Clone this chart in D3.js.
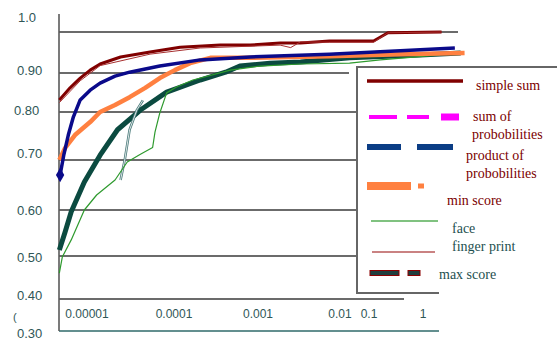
<!DOCTYPE html>
<html><head><meta charset="utf-8">
<script src="https://cdn.jsdelivr.net/npm/d3@7/dist/d3.min.js"></script>
<style>body{margin:0;background:#fff}svg{display:block}</style>
</head><body><svg id="c" width="557" height="341"></svg>
<script>
// ---- data (false acceptance rate, accuracy) ----
const yTicks = [1.0, 0.9, 0.8, 0.7, 0.6, 0.5, 0.4, 0.3];
const yTickLabels = ["1.0", "0.90", "0.80", "0.70", "0.60", "0.50", "0.40", "0.30"];
const xTicks = [0.00001, 0.0001, 0.001, 0.01, 0.1, 1];
const xTickLabels = ["0.00001", "0.0001", "0.001", "0.01", "0.1", "1"];
const seriesNames = ["simple sum", "sum of probobilities", "product of probobilities", "min score", "face", "finger print", "max score"];

const simpleSum = [[4.7e-6,0.831],[6.3e-6,0.862],[8.3e-6,0.887],[1.09e-5,0.907],[1.43e-5,0.922],[2.5e-5,0.939],[5.6e-5,0.951],[1.27e-4,0.963],[3.8e-4,0.968],[8.6e-4,0.968],[1.95e-3,0.973],[3.4e-3,0.973],[7.5e-3,0.978],[0.025,0.978],[0.037,0.998],[0.16,1.0]];
const fingerPrint = [[4.7e-6,0.824],[8.3e-6,0.88],[1.43e-5,0.918],[5.6e-5,0.946],[2.2e-4,0.961],[1.95e-3,0.968],[2.6e-3,0.962],[3.4e-3,0.976],[7.5e-3,0.975],[0.025,0.975],[0.037,0.998],[0.16,1.0]];
const sumProb = [[4.8e-6,0.67],[5.3e-6,0.71],[6.0e-6,0.752],[6.9e-6,0.79],[8.3e-6,0.831],[1.09e-5,0.856],[1.43e-5,0.874],[2.15e-5,0.892],[3.2e-5,0.902],[7.3e-5,0.917],[2.2e-4,0.932],[8.6e-4,0.939],[7.5e-3,0.946],[0.052,0.954],[0.23,0.961]];
const productProb = [[4.8e-6,0.67],[5.3e-6,0.71],[6.0e-6,0.752],[6.9e-6,0.79],[8.3e-6,0.831],[1.09e-5,0.856],[1.43e-5,0.874],[2.15e-5,0.892],[3.2e-5,0.902],[7.3e-5,0.917],[2.2e-4,0.932],[8.6e-4,0.939],[7.5e-3,0.946],[0.052,0.954],[0.23,0.961]];
const minScore = [[4.7e-6,0.70],[5.5e-6,0.725],[7.2e-6,0.752],[1.09e-5,0.779],[1.43e-5,0.80],[2.15e-5,0.818],[3.2e-5,0.838],[4.9e-5,0.862],[7.3e-5,0.887],[1.1e-4,0.907],[1.67e-4,0.924],[2.9e-4,0.937],[8.6e-4,0.937],[7.5e-3,0.941],[0.052,0.946],[0.30,0.949]];
const face = [[4.7e-6,0.46],[5.1e-6,0.498],[6.5e-6,0.535],[9.3e-6,0.60],[1.3e-5,0.63],[2.15e-5,0.66],[3.0e-5,0.696],[4.3e-5,0.712],[6.0e-5,0.726],[6.4e-5,0.758],[7.3e-5,0.798],[8.8e-5,0.849],[1.15e-4,0.864],[1.8e-4,0.882],[5.0e-4,0.907],[1.13e-3,0.917],[3.4e-3,0.922],[0.013,0.924],[0.03,0.932],[0.154,0.944]];
const maxScore = [[4.7e-6,0.513],[5.5e-6,0.552],[6.5e-6,0.596],[9.3e-6,0.656],[1.43e-5,0.71],[2.3e-5,0.763],[4.3e-5,0.805],[8.8e-5,0.851],[2.2e-4,0.882],[4.4e-4,0.902],[6.5e-4,0.917],[1.48e-3,0.924],[3.4e-3,0.927],[0.013,0.937],[0.089,0.944],[0.27,0.949]];
const maxScoreTrace = [[2.5e-5,0.66],[2.8e-5,0.70],[3.2e-5,0.763],[3.9e-5,0.805],[4.6e-5,0.83]];

// ---- scales ----
const svg = d3.select("#c");
const x = d3.scaleLog().domain([1e-5, 1e-2]).range([87, 340]);
const xLabelPos = d3.scaleLinear().domain([-5, -4, -3, -2, -1, 0]).range([87, 174, 258, 340, 369, 423]);
const y = d3.scaleLinear().domain([0.3, 0.4, 0.5, 0.6, 0.7, 0.8, 0.9, 1.0]).range([331, 299, 256, 210, 160, 112, 73, 32]);
const yLabelPos = d3.scaleLinear().domain([0.3, 0.4, 0.5, 0.6, 0.7, 0.8, 0.9, 1.0]).range([338, 300, 262, 215, 158, 115, 75, 22]);

const x0 = 59;
const gridEnd = {"1": 458, "0.9": 349, "0.8": 356, "0.7": 356, "0.6": 356, "0.5": 356, "0.4": 404};

// gridlines
svg.append("g").selectAll("line").data(yTicks.filter(v => v > 0.35)).join("line")
  .attr("x1", x0).attr("x2", d => gridEnd[String(d)])
  .attr("y1", d => y(d)).attr("y2", d => y(d))
  .attr("stroke", "#3a3a3a").attr("stroke-width", 1.6);
// bottom teal line
svg.append("line").attr("x1", x0).attr("x2", 439).attr("y1", y(0.3)).attr("y2", y(0.3))
  .attr("stroke", "#2f6a6a").attr("stroke-width", 1.6);
// y axis
svg.append("line").attr("x1", x0).attr("x2", x0).attr("y1", 14).attr("y2", y(0.3))
  .attr("stroke", "#5a5a5a").attr("stroke-width", 1.6);

// y labels
svg.append("g").selectAll("text").data(yTicks).join("text")
  .attr("x", (d, i) => i === 2 ? 14 : (i === 0 ? 18 : 17))
  .attr("y", d => yLabelPos(d))
  .attr("font-family", "Liberation Sans, Arial, sans-serif").attr("font-size", 13)
  .attr("fill", "#2f5656")
  .text((d, i) => yTickLabels[i]);
svg.append("text").attr("x", 13).attr("y", 321).attr("font-family", "Liberation Sans, Arial")
  .attr("font-size", 11).attr("fill", "#2f5656").text("(");

// x labels
svg.append("g").selectAll("text").data(xTicks).join("text")
  .attr("x", d => xLabelPos(Math.log10(d)))
  .attr("y", 318)
  .attr("text-anchor", "middle")
  .attr("font-family", "Liberation Sans, Arial, sans-serif").attr("font-size", 12)
  .attr("fill", "#2f5656")
  .text((d, i) => xTickLabels[i]);

// curves
const line = d3.line().x(d => x(d[0])).y(d => y(d[1]));
const g = svg.append("g").attr("fill", "none").attr("stroke-linejoin", "round");
g.append("path").datum(maxScore).attr("d", line).attr("stroke", "#0b4a40").attr("stroke-width", 5);
g.append("path").datum(maxScoreTrace).attr("d", line).attr("stroke", "#4a7a7a").attr("stroke-width", 2.5);
g.append("path").datum(maxScoreTrace).attr("d", line).attr("stroke", "#fff").attr("stroke-width", 0.8);
g.append("path").datum(face).attr("d", line).attr("stroke", "#2e9a2e").attr("stroke-width", 1.2);
g.append("path").datum(minScore).attr("d", line).attr("stroke", "#ff8040").attr("stroke-width", 4.5);
g.append("path").datum(sumProb).attr("d", line).attr("stroke", "#ff00ff").attr("stroke-width", 2).attr("stroke-dasharray", "8,6");
g.append("path").datum(productProb).attr("d", line).attr("stroke", "#0a0a8a").attr("stroke-width", 3.5);
g.append("path").datum(simpleSum).attr("d", line).attr("stroke", "#800000").attr("stroke-width", 3);
g.append("path").datum(fingerPrint).attr("d", line).attr("stroke", "#a83030").attr("stroke-width", 1);

// diamond marker at start of product curve
svg.append("path").attr("d", d3.symbol().type(d3.symbolDiamond).size(60))
  .attr("transform", `translate(${x(productProb[0][0])},${y(productProb[0][1])})`)
  .attr("fill", "#0a0a8a");

// legend box
const lg = svg.append("g");
lg.append("path").attr("d", "M557,67 H357 V293 H439").attr("fill", "none")
  .attr("stroke", "#666").attr("stroke-width", 2);

const swatches = [
  {y: 81, segs: [[367, 463]], h: 3.5, fill: "#800000"},
  {y: 117, segs: [[369, 397], [407, 429]], h: 4, fill: "#ff00ff"},
  {y: 117, segs: [[441, 459]], h: 7, fill: "#ff00ff"},
  {y: 147, segs: [[367, 401], [417, 453]], h: 6, fill: "#0b3d85"},
  {y: 186, segs: [[367, 411]], h: 8, fill: "#ff8040"},
  {y: 186, segs: [[418, 424]], h: 5, fill: "#ff8040"},
  {y: 221, segs: [[371, 438]], h: 1.2, fill: "#2e9a2e"},
  {y: 252, segs: [[372, 435]], h: 1.2, fill: "#a83030"},
  {y: 273, segs: [[370, 399], [408, 420]], h: 5, fill: "#1f3f3f", stroke: "#8b0000"}
];
swatches.forEach(s => s.segs.forEach(sg => {
  lg.append("rect").attr("x", sg[0]).attr("y", s.y - s.h / 2).attr("width", sg[1] - sg[0]).attr("height", s.h)
    .attr("fill", s.fill).attr("stroke", s.stroke || "none").attr("stroke-width", 1);
}));

const legendText = [
  {t: "simple sum", x: 476, y: 90, c: "#7b0000"},
  {t: "sum of", x: 473, y: 121, c: "#7b0000"},
  {t: "probobilities", x: 472, y: 139, c: "#7b0000"},
  {t: "product of", x: 466, y: 160, c: "#7b0000"},
  {t: "probobilities", x: 466, y: 178, c: "#7b0000"},
  {t: "min score", x: 447, y: 205, c: "#7b0000"},
  {t: "face", x: 452, y: 233, c: "#1e5050"},
  {t: "finger print", x: 452, y: 251, c: "#1e5050"},
  {t: "max score", x: 439, y: 279, c: "#1e5050"}
];
lg.selectAll("text.l").data(legendText).join("text").attr("class", "l")
  .attr("x", d => d.x).attr("y", d => d.y)
  .attr("font-family", "Liberation Serif, Times New Roman, serif").attr("font-size", 14)
  .attr("fill", d => d.c).text(d => d.t);
</script>
</body></html>
